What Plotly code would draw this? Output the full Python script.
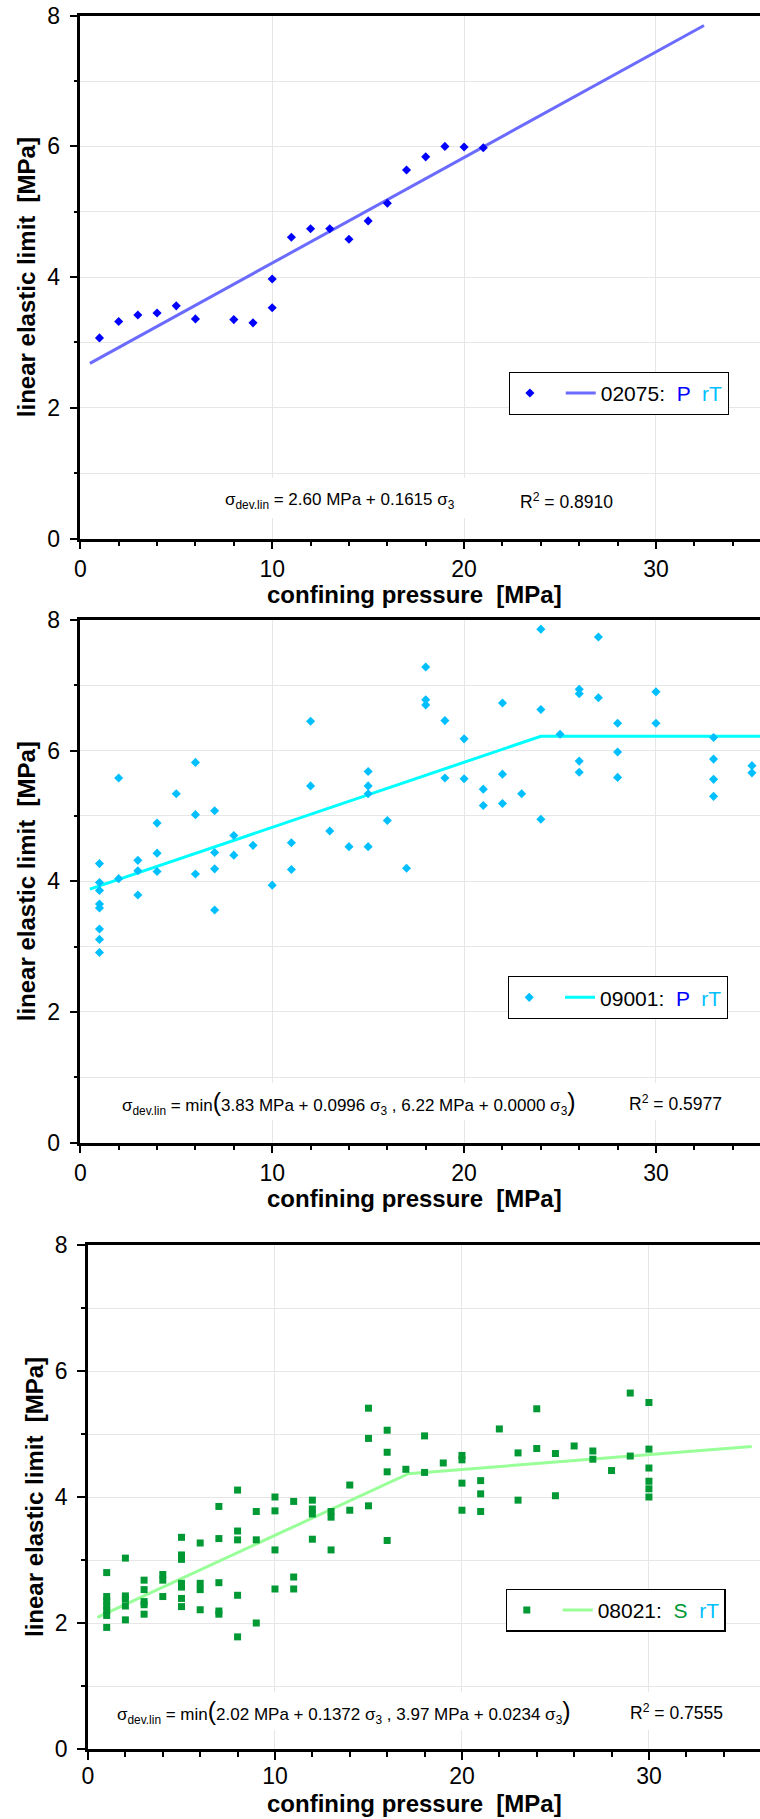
import plotly.graph_objects as go

# ---------------- data ----------------
# Panel 1: 02075 (P rT)
p1_x = [1, 2, 3, 4, 5, 6, 8, 9, 10, 10, 11, 12, 13, 14, 15, 16, 17, 18, 19, 20, 21]
p1_y = [3.07, 3.32, 3.42, 3.45, 3.56, 3.36, 3.35, 3.30, 3.53, 3.97, 4.61, 4.74, 4.74,
        4.58, 4.86, 5.13, 5.64, 5.84, 6.00, 5.99, 5.98]
p1_fit_x = [0.5, 32.5]
p1_fit_y = [2.68, 7.85]

# Panel 2: 09001 (P rT)
p2_x = [1, 1, 1, 1, 1, 1, 1, 1,
        2, 2, 3, 3, 3, 4, 4, 4, 5, 6, 6, 6, 7, 7, 7, 7, 8, 8, 9, 10, 11, 11,
        12, 12, 13, 14, 15, 15, 15, 15, 16, 17, 18, 18, 18, 19, 19, 20, 20,
        21, 21, 22, 22, 22, 23, 24, 24, 24, 25, 26, 26, 26, 26, 27, 27,
        28, 28, 28, 30, 30, 33, 33, 33, 33, 35, 35]
p2_y = [4.27, 3.98, 3.86, 3.65, 3.59, 3.27, 3.11, 2.91,
        5.58, 4.04, 4.32, 4.16, 3.79, 4.89, 4.43, 4.15, 5.34, 5.82, 5.02, 4.11,
        5.08, 4.44, 4.19, 3.56, 4.70, 4.40, 4.55, 3.94, 4.59, 4.18,
        6.45, 5.46, 4.77, 4.53, 5.68, 5.46, 5.34, 4.53, 4.93, 4.20, 7.28, 6.78, 6.70,
        6.46, 5.58, 6.18, 5.57, 5.41, 5.16, 6.73, 5.64, 5.19, 5.34, 7.86, 6.63, 4.95,
        6.25, 6.94, 6.87, 5.84, 5.67, 7.74, 6.81, 6.42, 5.98, 5.59, 6.90, 6.42,
        6.20, 5.87, 5.56, 5.30, 5.77, 5.66]
p2_fit_x = [0.5, 24.0, 36.5]
p2_fit_y = [3.88, 6.22, 6.22]

# Panel 3: 08021 (S rT)
p3_x = [1, 1, 1, 1, 1, 1, 1,
        2, 2, 2, 2, 2,
        3, 3, 3, 3, 3,
        4, 4, 4,
        5, 5, 5, 5, 5, 5, 5,
        6, 6, 6, 6,
        7, 7, 7, 7, 7,
        8, 8, 8, 8, 8,
        9, 9, 9,
        10, 10, 10, 10,
        11, 11, 11,
        12, 12, 12, 12,
        13, 13, 13,
        14, 14,
        15, 15, 15,
        16, 16, 16, 16,
        17, 18, 18, 19,
        20, 20, 20, 20,
        21, 21, 21,
        22, 23, 23, 24, 24, 25, 25, 26, 27, 27, 28, 29, 29,
        30, 30, 30, 30, 30, 30]
p3_y = [2.80, 2.42, 2.35, 2.27, 2.20, 2.12, 1.93,
        3.03, 2.43, 2.38, 2.27, 2.05,
        2.68, 2.53, 2.34, 2.29, 2.14,
        2.77, 2.68, 2.42,
        3.36, 3.08, 3.01, 2.63, 2.57, 2.39, 2.26,
        3.27, 2.63, 2.53, 2.21,
        3.85, 3.34, 2.64, 2.19, 2.14,
        4.11, 3.46, 3.32, 2.44, 1.78,
        3.77, 3.32, 2.00,
        4.00, 3.78, 3.16, 2.54,
        3.93, 2.73, 2.54,
        3.95, 3.81, 3.73, 3.33,
        3.77, 3.68, 3.16,
        4.19, 3.79,
        5.41, 4.93, 3.86,
        5.06, 4.71, 4.40, 3.31,
        4.44, 4.97, 4.39, 4.54,
        4.66, 4.59, 4.22, 3.79,
        4.26, 4.05, 3.77,
        5.08, 4.70, 3.95, 5.40, 4.77, 4.69, 4.02, 4.81, 4.73, 4.60, 4.42, 5.65, 4.65,
        5.50, 4.76, 4.46, 4.25, 4.13, 4.00]
p3_fit_x = [0.5, 17.14, 35.5]
p3_fit_y = [2.09, 4.37, 4.80]

y_ticks = [0, 2, 4, 6, 8]
x_ticks = [0, 10, 20, 30]

x_title = "confining pressure  [MPa]"
y_title = "linear elastic limit  [MPa]"
eq_texts = [
    "σ<sub>dev.lin</sub> = 2.60 MPa + 0.1615 σ<sub>3</sub>",
    "σ<sub>dev.lin</sub> = min<span style='font-size:25px'>(</span>3.83 MPa + 0.0996 σ<sub>3</sub> , "
    "6.22 MPa + 0.0000 σ<sub>3</sub><span style='font-size:25px'>)</span>",
    "σ<sub>dev.lin</sub> = min<span style='font-size:25px'>(</span>2.02 MPa + 0.1372 σ<sub>3</sub> , "
    "3.97 MPa + 0.0234 σ<sub>3</sub><span style='font-size:25px'>)</span>",
]
r2_texts = ["R<sup>2</sup> = 0.8910", "R<sup>2</sup> = 0.5977", "R<sup>2</sup> = 0.7555"]
legend_names = [
    "02075:  <span style='color:#0000FF'>P</span>  <span style='color:#00BFFF'>rT</span>",
    "09001:  <span style='color:#0000FF'>P</span>  <span style='color:#00BFFF'>rT</span>",
    "08021:  <span style='color:#009933'>S</span>  <span style='color:#00BFFF'>rT</span>",
]

# ---------------- styling / layout ----------------
FONT = "Liberation Sans, Arial, Helvetica, sans-serif"
W, H = 760, 1819

panels = [
    dict(x=p1_x, y=p1_y, fx=p1_fit_x, fy=p1_fit_y, mcol="#0000FF", lcol="#6B6BFF",
         sym="diamond", msize=7, xdom=[80.3 / W, 1.0], ydom=[1 - 538.5 / H, 1 - 15.7 / H],
         xmax=35.42, leg=dict(x=508.7 / W, y=1 - 371.7 / H), xt_y=594.0, tls=0,
         eq=(7.42, 0.58), r2=(22.8, 0.58), box=(7.0, 28.0, 0.31, 0.93)),
    dict(x=p2_x, y=p2_y, fx=p2_fit_x, fy=p2_fit_y, mcol="#00BFFF", lcol="#00FFFF",
         sym="diamond", msize=7, xdom=[80.3 / W, 1.0], ydom=[1 - 1142.5 / H, 1 - 620.0 / H],
         xmax=35.42, leg=dict(x=508.0 / W, y=1 - 976.0 / H), xt_y=1198.0, tls=0,
         eq=(2.07, 0.61), r2=(28.5, 0.61), box=(1.7, 33.8, 0.34, 0.91)),
    dict(x=p3_x, y=p3_y, fx=p3_fit_x, fy=p3_fit_y, mcol="#009933", lcol="#99FF99",
         sym="square", msize=7, xdom=[88.0 / W, 1.0], ydom=[1 - 1749.0 / H, 1 - 1245.0 / H],
         xmax=35.94, leg=dict(x=505.6 / W, y=1 - 1588.7 / H), xt_y=1803.0, tls=-3,
         eq=(1.47, 0.59), r2=(28.9, 0.59), box=(1.1, 34.3, 0.30, 0.91)),
]

fig = go.Figure()
layout = dict(
    width=W, height=H,
    margin=dict(l=0, r=0, t=0, b=0),
    paper_bgcolor="white", plot_bgcolor="white",
    font=dict(family=FONT, color="black", size=20),
    annotations=[], shapes=[],
)

for i, p in enumerate(panels):
    n = i + 1
    sfx = "" if n == 1 else str(n)
    xa, ya = "x" + sfx, "y" + sfx
    legname = "legend" + sfx

    fig.add_trace(go.Scatter(
        x=p["fx"], y=p["fy"], mode="lines", xaxis=xa, yaxis=ya,
        line=dict(color=p["lcol"], width=3), name=legend_names[i],
        legend=legname, legendrank=2, hoverinfo="skip"))
    fig.add_trace(go.Scatter(
        x=p["x"], y=p["y"], mode="markers", xaxis=xa, yaxis=ya,
        marker=dict(symbol=p["sym"], size=p["msize"], color=p["mcol"], line=dict(width=0)),
        name=" ", legend=legname, legendrank=1))

    layout["xaxis" + sfx] = dict(
        domain=p["xdom"], anchor=ya, range=[0, p["xmax"]],
        tickmode="array", tickvals=x_ticks, ticks="outside", ticklen=8, tickwidth=1.5,
        tickcolor="black", ticklabelstandoff=p["tls"],
        minor=dict(dtick=2, tick0=0, ticks="outside", ticklen=5, tickwidth=1.5,
                   tickcolor="black", showgrid=False),
        showline=True, linecolor="black", linewidth=2.5, mirror=True,
        showgrid=True, gridcolor="#E6E6E6", gridwidth=1, zeroline=False,
        tickfont=dict(size=23, family=FONT),
        automargin=False, fixedrange=True,
    )
    layout["yaxis" + sfx] = dict(
        domain=p["ydom"], anchor=xa, range=[0, 8],
        tickmode="array", tickvals=y_ticks, ticks="outside", ticklen=8, tickwidth=1.5,
        tickcolor="black", ticklabelstandoff=5,
        minor=dict(dtick=1, tick0=0, ticks="outside", ticklen=4, tickwidth=1.5,
                   tickcolor="black", showgrid=True, gridcolor="#E6E6E6", gridwidth=1),
        showline=True, linecolor="black", linewidth=2.5,
        showgrid=True, gridcolor="#E6E6E6", gridwidth=1, zeroline=False,
        tickfont=dict(size=23, family=FONT),
        title=dict(text=y_title, standoff=5,
                   font=dict(size=24, family=FONT, weight="bold")),
        automargin=False, fixedrange=True,
    )
    layout[legname] = dict(
        x=p["leg"]["x"], y=p["leg"]["y"], xanchor="left", yanchor="top",
        orientation="h", bgcolor="white", bordercolor="black", borderwidth=1.2,
        font=dict(size=21, family=FONT, color="black"),
        itemclick=False, itemdoubleclick=False,
    )
    # x-axis title (placed as a centred text below the tick labels)
    layout["annotations"].append(dict(
        xref="paper", yref="paper", x=414.0 / W, y=1 - p["xt_y"] / H,
        xanchor="center", yanchor="middle", text=x_title, showarrow=False,
        font=dict(size=24, family=FONT, color="black", weight="bold")))
    x0, x1, y0, y1 = p["box"]
    layout["shapes"].append(dict(
        type="rect", xref=xa, yref=ya, x0=x0, x1=x1, y0=y0, y1=y1,
        fillcolor="white", line=dict(width=0), layer="between"))
    layout["annotations"].append(dict(
        xref=xa, yref=ya, x=p["eq"][0], y=p["eq"][1], xanchor="left", yanchor="middle",
        text=eq_texts[i], showarrow=False, font=dict(size=17, family=FONT, color="black")))
    layout["annotations"].append(dict(
        xref=xa, yref=ya, x=p["r2"][0], y=p["r2"][1], xanchor="left", yanchor="middle",
        text=r2_texts[i], showarrow=False, font=dict(size=17.5, family=FONT, color="black")))

fig.update_layout(**layout)
fig.write_html("out.html", config={"displayModeBar": False})
